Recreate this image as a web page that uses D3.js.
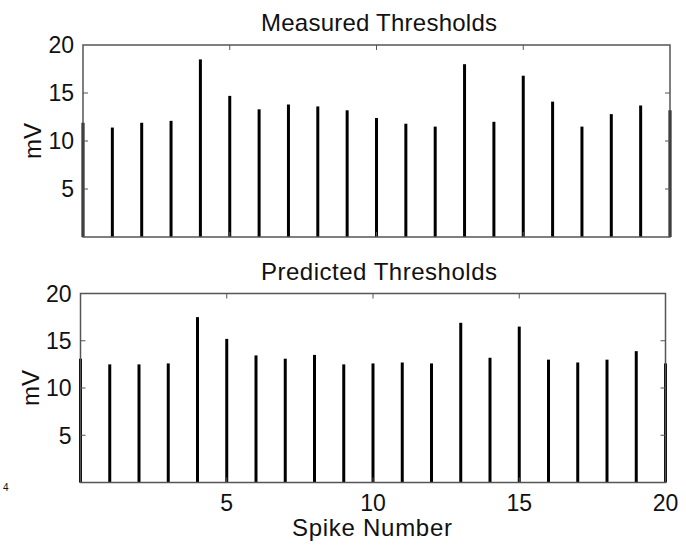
<!DOCTYPE html>
<html>
<head>
<meta charset="utf-8">
<script src="https://cdn.jsdelivr.net/npm/d3@7.9.0/dist/d3.min.js"></script>
<style>
  body { margin: 0; background: #fff; }
  svg { display: block; font-family: "Liberation Sans", Arial, sans-serif; }
  .frame { fill: none; stroke: #555; stroke-width: 1.5; }
  .tick-mark { stroke: #555; stroke-width: 1; }
  .bar { stroke: #000; stroke-width: 3; }
  text { fill: #111; }
</style>
</head>
<body>
<div id="chart"></div>
<script>
// spike index and thresholds (mV)
const spikes = [0, 1, 2, 3, 4, 5, 6, 7, 8, 9, 10, 11, 12, 13, 14, 15, 16, 17, 18, 19, 20];
const measured = [11.9, 11.4, 11.9, 12.1, 18.5, 14.7, 13.3, 13.8, 13.6, 13.2, 12.4,
  11.8, 11.5, 18.0, 12.0, 16.8, 14.1, 11.5, 12.8, 13.7, 13.2];
const predicted = [13.1, 12.5, 12.5, 12.6, 17.5, 15.2, 13.45, 13.1, 13.5, 12.5, 12.6,
  12.7, 12.6, 16.9, 13.2, 16.5, 13.0, 12.7, 13.0, 13.9, 12.6];
const xTicks = [5, 10, 15, 20];
const yTicks = [5, 10, 15, 20];

const width = 686;
const height = 548;

const svg = d3.select('#chart')
  .append('svg')
  .attr('width', width)
  .attr('height', height);

function drawPanel(values, box, title, showXLabels) {
  const x = d3.scaleLinear().domain([0, 20]).range([box.left, box.right]);
  const y = d3.scaleLinear().domain([0, 20]).range([box.bottom, box.top]);
  const g = svg.append('g');

  // stems
  g.selectAll('line.bar')
    .data(spikes)
    .join('line')
    .attr('class', 'bar')
    .attr('x1', (d) => x(d))
    .attr('x2', (d) => x(d))
    .attr('y1', y(0))
    .attr('y2', (d, i) => y(values[i]));

  // inward ticks on all four sides, matlab style
  const tl = 5;
  const inner = yTicks.filter((d) => d < 20);
  g.selectAll('line.ytl').data(inner).join('line').attr('class', 'tick-mark')
    .attr('x1', box.left).attr('x2', box.left + tl)
    .attr('y1', (d) => y(d)).attr('y2', (d) => y(d));
  g.selectAll('line.ytr').data(inner).join('line').attr('class', 'tick-mark')
    .attr('x1', box.right).attr('x2', box.right - tl)
    .attr('y1', (d) => y(d)).attr('y2', (d) => y(d));
  const innerX = xTicks.filter((d) => d < 20);
  g.selectAll('line.xtt').data(innerX).join('line').attr('class', 'tick-mark')
    .attr('x1', (d) => x(d)).attr('x2', (d) => x(d))
    .attr('y1', box.top).attr('y2', box.top + tl);
  g.selectAll('line.xtb').data(innerX).join('line').attr('class', 'tick-mark')
    .attr('x1', (d) => x(d)).attr('x2', (d) => x(d))
    .attr('y1', box.bottom).attr('y2', box.bottom - tl);

  g.append('rect')
    .attr('class', 'frame')
    .attr('x', box.left)
    .attr('y', box.top)
    .attr('width', box.right - box.left)
    .attr('height', box.bottom - box.top);

  g.selectAll('text.ylab')
    .data(yTicks)
    .join('text')
    .attr('class', 'ylab')
    .attr('x', box.left - 9)
    .attr('y', (d) => y(d))
    .attr('dy', '0.36em')
    .attr('text-anchor', 'end')
    .attr('font-size', 23)
    .text((d) => d);

  if (showXLabels) {
    g.selectAll('text.xlab')
      .data(xTicks)
      .join('text')
      .attr('class', 'xlab')
      .attr('x', (d) => x(d))
      .attr('y', box.bottom + 28)
      .attr('text-anchor', 'middle')
      .attr('font-size', 23)
      .text((d) => d);
  }

  g.append('text')
    .attr('x', 379)
    .attr('y', box.top - 14)
    .attr('text-anchor', 'middle')
    .attr('font-size', 24)
    .attr('textLength', 236)
    .text(title);

  g.append('text')
    .attr('transform', `translate(${box.left - 42}, ${(box.top + box.bottom) / 2}) rotate(-90)`)
    .attr('text-anchor', 'middle')
    .attr('font-size', 24)
    .text('mV');
}

drawPanel(measured, { left: 83, right: 670, top: 45, bottom: 237 }, 'Measured Thresholds', false);
drawPanel(predicted, { left: 80.5, right: 665.5, top: 293.5, bottom: 482.5 }, 'Predicted Thresholds', true);

svg.append('text')
  .attr('x', 372)
  .attr('y', 536)
  .attr('text-anchor', 'middle')
  .attr('font-size', 24)
  .attr('textLength', 160)
  .text('Spike Number');

// stray glyph at the far left edge of the scan
svg.append('text')
  .attr('x', 3)
  .attr('y', 491)
  .attr('font-size', 10)
  .text('4');
</script>
</body>
</html>
